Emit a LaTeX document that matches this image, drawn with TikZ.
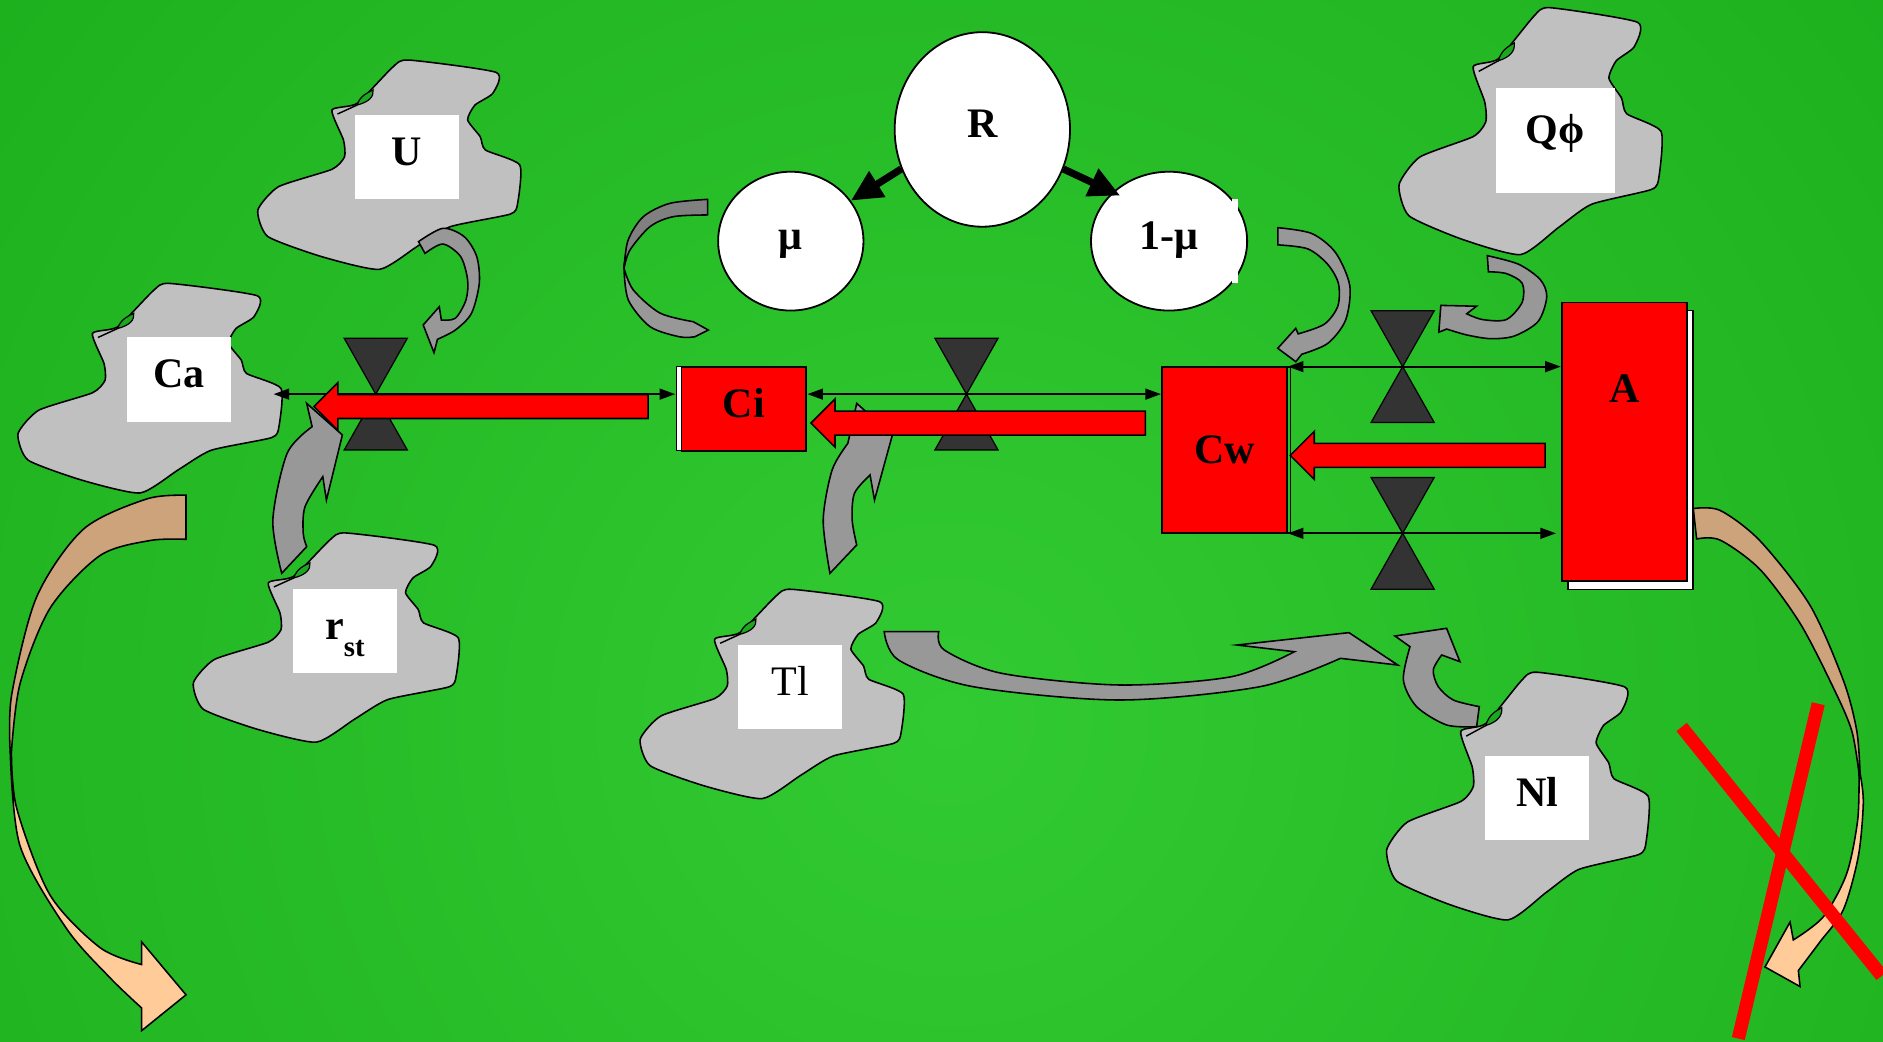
\documentclass[tikz,border=0pt]{standalone}
\usepackage{fontspec}
\setmainfont{Liberation Serif}
\usetikzlibrary{shapes.geometric, arrows.meta, calc, shadows}
\definecolor{field}{RGB}{12,156,14}
\definecolor{fieldlight}{RGB}{50,202,50}
\definecolor{rock}{RGB}{192,192,192}
\definecolor{leaf}{RGB}{28,168,30}
\definecolor{flux}{RGB}{152,152,152}
\definecolor{fluxdark}{RGB}{128,128,128}
\definecolor{valvegrey}{RGB}{51,51,51}
\definecolor{drytan}{RGB}{204,163,122}
\definecolor{peach}{RGB}{255,204,153}
\newcommand{\labfont}{\fontsize{35}{40}\selectfont\bfseries}

% red block arrow pointing left: #1 tip, #2 tail (only its x is used)
\newcommand{\redflow}[2]{%
  \draw[redflux] let \p1=#1, \p2=#2 in
    (\x1,\y1) -- (\x1+20pt,\y1+20pt) -- (\x1+20pt,\y1+10pt) -- (\x2,\y1+10pt)
    -- (\x2,\y1-10pt) -- (\x1+20pt,\y1-10pt) -- (\x1+20pt,\y1-20pt) -- cycle;}

\tikzset{
  blob/.pic={
    \draw[line width=1.3pt, fill=rock] plot[smooth cycle, tension=0.35] coordinates {
      (28.3,23.9) (32.7,38.2) (33.1,46.2) (28.3,52.2) (7.9,60.5) (0,71.7)
      (3.8,84.3) (24.3,93.9) (46.4,100) (61,88.9) (73.5,79.6) (96.4,73.6)
      (99.2,68.4) (100,50.1) (86.9,43) (84.9,36.6) (80.1,28.6) (82.9,21.5)
      (89.7,15.9) (91,5.9) (57.6,0) (51.5,3.4) (37.9,20.7)};
    \draw[line width=1pt, fill=leaf] (37.9,21.5) .. controls (39,17) and (42,15.5) .. (44,14.3)
      .. controls (44.3,17.5) and (42.5,20) .. cycle;
    \draw[line width=1.2pt] (30.4,25.8) -- (37.9,21.5);
  },
  valve/.pic={
    \draw[fill=valvegrey, line width=1pt] (-26.3,-46.5) -- (26.3,-46.5) -- (0,0) -- cycle
      (0,0) -- (26.3,46.5) -- (-26.3,46.5) -- cycle;
  }
}

\begin{document}
\begin{tikzpicture}[x=1pt, y=-1pt,
    tag/.style={fill=white, inner sep=0pt, minimum width=86.5pt, minimum height=70pt,
      text height=24pt, text depth=10pt, font=\labfont},
    pool/.style={ellipse, draw=black, line width=1.5pt, fill=white, inner sep=0pt,
      text height=24pt, text depth=10pt, font=\labfont},
    store/.style={rectangle, draw=black, line width=1.6pt, fill=red, inner sep=0pt,
      minimum width=104pt, font=\labfont},
    wire/.style={{Triangle[length=13pt,width=9pt]}-{Triangle[length=13pt,width=9pt]}, line width=1.6pt},
    rfeed/.style={-{Triangle[length=26pt,width=24pt]}, line width=6pt},
    redflux/.style={draw=black, line width=1.3pt, fill=red},
    grayflux/.style={draw=black, line width=1.3pt, fill=flux},
    backside/.style={draw=black, line width=1.3pt, fill=drytan},
    frontside/.style={draw=black, line width=1.3pt, fill=peach},
    strike/.style={red, line width=11pt}
  ]
  \useasboundingbox (0,0) rectangle (1568,867);
  \fill[field] (0,0) rectangle (1568,867);
  \begin{scope}
    \clip (0,0) rectangle (1568,867);
    \shade[inner color=fieldlight, outer color=field] (790,600) circle (1800);
  \end{scope}

  % losses to the outside
  \draw[backside] plot[smooth] coordinates {(154.9,412.4) (122.1,415.5) (69.4,440.7) (30.5,497.1) (9.7,578.7) (8.5,626)}
    -- plot[smooth] coordinates {(9.5,626) (16.7,569.3) (41.6,506.6) (83.3,462.6) (124.9,450.1) (154.9,449.1)} -- cycle;
  \draw[frontside] plot[smooth] coordinates {(8.5,626) (16.7,704.4) (55.5,773.4) (91.6,814.2) (118,839.4)}
    -- (118,858.2) -- (154.9,828.4) -- (118,784.4)
    -- plot[smooth] coordinates {(118,803.2) (83.3,789.1) (41.6,745.2) (13.9,673) (9.5,626)} -- cycle;
  \draw[backside] plot[smooth] coordinates {(1410,423.5) (1432.3,425) (1465.6,450.4) (1507.2,504) (1535,566.6) (1546.1,608.3) (1548.9,644.1)}
    -- plot[smooth] coordinates {(1548,644) (1541.9,608.3) (1526.6,572.6) (1498.9,519) (1465.6,474.2) (1432.3,449.7) (1412.8,448.8)} -- cycle;
  \draw[frontside] plot[smooth] coordinates {(1548.9,644.1) (1551.6,668) (1547.5,712.7) (1535,757.4) (1515.5,784.3) (1497.5,808.2)}
    -- (1498.9,821.5) -- (1469.7,805.2) -- (1490.6,767.8)
    -- plot[smooth] coordinates {(1493.3,782.7) (1518.3,763.4) (1537.7,727.6) (1546.9,682.9) (1548,644)} -- cycle;

  % driving factors
  \pic[xscale=2.181, yscale=1.743] at (214.7,50) {blob};
  \pic[xscale=2.19, yscale=1.745] at (15,236) {blob};
  \pic[xscale=2.206, yscale=1.742] at (161,443.8) {blob};
  \pic[xscale=2.19, yscale=1.743] at (533.1,490.7) {blob};
  \pic[xscale=2.178, yscale=2.062] at (1154.7,559.8) {blob};
  \pic[xscale=2.182, yscale=2.056] at (1165,6.4) {blob};

  \node[tag] (U) at (338.9,130.8) {U};
  \node[tag] (Ca) at (149,316) {Ca};
  \node[tag] (rst) at (287.3,525.5) {r\raisebox{-14pt}{\fontsize{24}{26}\selectfont st}};
  \node[tag, font=\fontsize{35}{40}\selectfont] (Tl) at (657.9,572) {Tl};
  \node[tag] (Nl) at (1279.9,664.4) {Nl};
  \node[tag, minimum width=99pt, minimum height=87pt, text depth=18.6pt] (Qphi) at (1295.2,116.9) {Qϕ};

  % influences
  \draw[grayflux] plot[smooth] coordinates {(348.5,201.2) (368.8,190.1) (386.6,197.1) (397,213.7) (399.1,235.9) (392.6,260.9) (379.2,274.8) (364.3,282.5)}
    -- (361.4,293.7) -- (352.4,270.6) -- (365.8,255.4)
    -- plot[smooth] coordinates {(367.5,266.5) (379.2,265) (388,249.8) (389.4,233.2) (383.6,213.7) (368.8,203.2) (353.9,211)} -- cycle;
  \draw[grayflux] plot[smooth] coordinates {(234.6,477.4) (227.2,433) (239.1,377.5) (259.9,355.3)}
    -- (255.4,335.9) -- (285.1,362.2) -- (271.8,416.4)
    -- plot[smooth] coordinates {(268.8,396.9) (254,421.9) (252.5,444.1) (255.4,455.2)} -- cycle;
  \draw[grayflux, fill=fluxdark] plot[smooth] coordinates {(589.3,166) (557.9,169.3) (535.7,180.4) (523,200) (519.6,223.4)}
    -- plot[smooth] coordinates {(519.6,223.4) (524.6,208.2) (541.3,188.7) (560.7,180.4) (589.3,179)} -- cycle;
  \draw[grayflux] plot[smooth] coordinates {(519.6,223.4) (523.2,249.8) (541.3,272) (566,280.5) (578.7,280.4)}
    -- (589.8,274.8) -- plot[smooth] coordinates {(577.3,267.9) (549.6,260.7) (527.4,241.5) (519.6,223.4)} -- cycle;
  \draw[grayflux] plot[smooth] coordinates {(1064.1,189.6) (1092.2,194.4) (1112.1,210.3) (1124,238) (1120.5,266.5) (1105.7,285.9) (1084,295)}
    -- (1079,301.2) -- (1064,290) -- (1079,273.4)
    -- plot[smooth] coordinates {(1081,278) (1102.7,270) (1114,255) (1114.5,236) (1105.4,219.9) (1088.9,207.2) (1064.1,203.9)} -- cycle;
  \draw[grayflux] plot[smooth] coordinates {(1238.5,212.9) (1264.2,219.9) (1282.4,232.6) (1288,247) (1280.8,267.7) (1261,279.8) (1241.1,282) (1221.3,278.9) (1204.7,274)}
    -- (1198.1,276.6) -- (1199.8,254.3) -- (1229.5,255)
    -- plot[smooth] coordinates {(1221.3,261.3) (1234.5,266.1) (1254.3,266.1) (1267.5,251.7) (1267.5,235.8) (1254.3,227.8) (1239.4,226.3)} -- cycle;
  \draw[grayflux] plot[smooth] coordinates {(691.1,477.4) (685.5,433) (692.9,391.4) (706,369.2)}
    -- (713.4,335.9) -- (743.1,362.2) -- (728.2,416.4)
    -- plot[smooth] coordinates {(724.5,395.5) (711.5,410.8) (709.6,433) (713.4,453.8)} -- cycle;
  \draw[grayflux] plot[smooth] coordinates {(736.3,526) (748.2,549.6) (810.3,571.8) (932.2,582.9) (1049.2,571.8) (1116.2,548.2)}
    -- (1164,553.8) -- (1123.3,526.8) -- (1030.1,537.1)
    -- plot[smooth] coordinates {(1077.9,542.7) (1025.4,563.5) (932.2,570.4) (834.2,560.7) (786.4,541.3) (781.7,526)} -- cycle;
  \draw[grayflux] plot[smooth] coordinates {(1229.6,605.1) (1204.6,603.7) (1179.6,588.4) (1168.6,566.2) (1174.1,538.5)}
    -- (1161.6,529.6) -- (1204.6,523.2) -- (1215.7,551)
    -- plot[smooth] coordinates {(1200.5,545.4) (1193.5,557.9) (1197.7,571.8) (1210.2,582.9) (1231.8,588.4)} -- cycle;

  % valves
  \coordinate (v1) at (312.9,328.2);
  \coordinate (v2) at (804.8,328.2);
  \coordinate (v3) at (1168,305.3);
  \coordinate (v4) at (1168,444.1);
  \foreach \v in {v1,v2,v3,v4} \pic at (\v) {valve};

  % pools of carbon
  \node[store, minimum height=70pt, text height=24pt, text depth=10pt,
    general shadow={fill=white, draw=black, line width=1.2pt, shadow xshift=-4pt}] (Ci) at (619.5,340.3) {Ci};
  \node[store, minimum height=138pt,
    general shadow={draw=black, line width=1.2pt, shadow xshift=3pt}] (Cw) at (1019.6,374.7) {Cw};
  \node[store, minimum height=232pt,
    general shadow={fill=white, draw=black, line width=1.2pt, shadow xshift=5.2pt, shadow yshift=-6.8pt}] (A) at (1352.5,367.9) {};
  \node[font=\labfont, text height=24pt, text depth=0pt, inner sep=0pt] (Aname) at ([yshift=-72pt]A.north) {A};

  \coordinate (caedge) at (227.8,328.2);
  \coordinate (caport) at (261.4,338.5);
  \draw[wire, shorten >=4.4pt] (caedge) -- (Ci.west |- v1);
  \draw[wire] (Ci.east |- v2) -- (Cw.west |- v2);
  \draw[wire] (Cw.east |- v3) -- (A.west |- v3);
  \draw[wire, shorten >=4pt] (Cw.east |- v4) -- (A.west |- v4);

  \redflow{(caport)}{([xshift=-27pt]Ci.west)}
  \redflow{([xshift=3pt,yshift=-12pt]Ci.east)}{([xshift=-13pt]Cw.west)}
  \redflow{([xshift=2pt,yshift=-4.5pt]Cw.east)}{([xshift=-13pt]A.west)}

  % respiration split
  \node[pool, minimum width=146pt, minimum height=162pt] (R) at (818,107.8) {R};
  \node[pool, minimum width=121pt, minimum height=115.6pt] (mu) at (658.5,200.8) {μ};
  \node[pool, minimum width=130pt, minimum height=115.6pt] (omu) at (973.5,200.8) {1-μ};
  \fill[white] (1026,166) rectangle (1030.5,236);
  \draw[rfeed] (R.206) -- (mu.34);
  \draw[rfeed, shorten >=-7pt] (R.-26) -- (omu.139);

  % no transport here
  \draw[strike] (1400.3,605.4) -- (1566.9,812.6);
  \draw[strike] (1514.1,586) -- (1447.5,864.8);
\end{tikzpicture}
\end{document}
